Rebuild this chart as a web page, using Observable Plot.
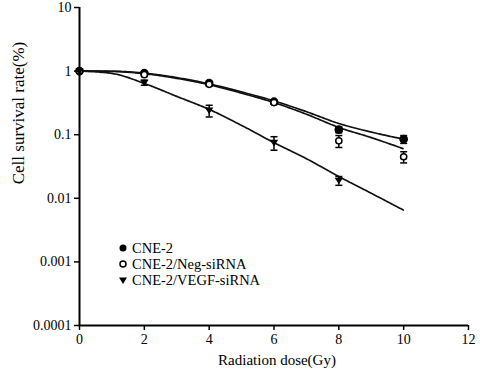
<!DOCTYPE html>
<html><head><meta charset="utf-8">
<script src="https://cdn.jsdelivr.net/npm/d3@7"></script>
<script src="https://cdn.jsdelivr.net/npm/@observablehq/plot@0.6"></script>
<style>
body{margin:0;background:#fff;font-family:"Liberation Serif","DejaVu Serif",serif;}
#wrap{position:relative;width:480px;height:371px;}
#wrap svg text{font-family:"Liberation Serif",serif !important;}
.ttl{position:absolute;font-size:15px;color:#000;white-space:nowrap;font-family:"Liberation Serif",serif;}
#legend{position:absolute;left:118px;top:240px;font-size:14.5px;line-height:16px;}
#legend div{display:flex;align-items:center;}
#legend svg{margin-right:4px;}
</style></head>
<body><div id="wrap"></div>
<script>
const doses = [0, 2, 4, 6, 8, 10];
const seriesNames = ["CNE-2", "CNE-2/Neg-siRNA", "CNE-2/VEGF-siRNA"];
const cne2 = [1, 0.93, 0.65, 0.33, 0.12, 0.085];
const cne2Err = [0, 0.03, 0.04, 0.02, 0.013, 0.012];
const neg = [1, 0.88, 0.62, 0.32, 0.08, 0.045];
const negErr = [0, 0.03, 0.04, 0.02, 0.017, 0.009];
const vegf = [1, 0.66, 0.24, 0.075, 0.019, null];
const vegfErr = [0, 0.06, 0.05, 0.018, 0.003, null];
const fitDoses = [0, 1, 2, 3, 4, 5, 6, 7, 8, 9, 10];
const cne2Fit = [1, 0.995, 0.93, 0.79, 0.63, 0.47, 0.34, 0.23, 0.15, 0.11, 0.085];
const negFit = [1, 0.99, 0.91, 0.77, 0.61, 0.45, 0.32, 0.21, 0.13, 0.09, 0.06];
const vegfFit = [1, 0.92, 0.64, 0.4, 0.25, 0.14, 0.075, 0.042, 0.022, 0.012, 0.0065];
const yTicks = [10, 1, 0.1, 0.01, 0.001, 0.0001];
const xTicks = [0, 2, 4, 6, 8, 10, 12];

const triangleDown = {draw(ctx, size){const r=Math.sqrt(size/Math.PI)*1.1;ctx.moveTo(-r,-r*0.7);ctx.lineTo(r,-r*0.7);ctx.lineTo(0,r*0.9);ctx.closePath();}};
const cap = {draw(ctx, size){const r=Math.sqrt(size/Math.PI);ctx.moveTo(-r,0);ctx.lineTo(r,0);}};

const vals = [cne2, neg, vegf], errs = [cne2Err, negErr, vegfErr], fits = [cne2Fit, negFit, vegfFit];
const pts = [], fitRows = [];
seriesNames.forEach((s, i) => {
  doses.forEach((d, j) => { if (vals[i][j] != null) pts.push({s, x: d, y: vals[i][j], lo: vals[i][j] - errs[i][j], hi: vals[i][j] + errs[i][j]}); });
  fitDoses.forEach((d, j) => fitRows.push({s, x: d, y: fits[i][j]}));
});
const errPts = pts.filter(p => p.hi > p.lo);

const chart = Plot.plot({
  width: 480, height: 371,
  marginLeft: 79, marginRight: 12, marginTop: 7, marginBottom: 46,
  style: {fontFamily: "Liberation Serif, serif", fontSize: "14px", color: "#000", background: "#fff"},
  x: {domain: [0, 12], ticks: xTicks, tickSize: 5, tickPadding: 4, label: null},
  y: {type: "log", domain: [0.0001, 10], ticks: yTicks, tickFormat: d => String(d), tickSize: 5, tickPadding: 3, label: null},
  marks: [
    Plot.line(fitRows, {x: "x", y: "y", z: "s", stroke: "#111", strokeWidth: 1.7, strokeDasharray: "3,1", curve: "monotone-x"}),
    Plot.ruleX(errPts, {x: "x", y1: "lo", y2: "hi", stroke: "#000", strokeWidth: 1.5}),
    Plot.dot(errPts, {x: "x", y: "lo", symbol: () => cap, r: 3.5, stroke: "#000", strokeWidth: 1.5}),
    Plot.dot(errPts, {x: "x", y: "hi", symbol: () => cap, r: 3.5, stroke: "#000", strokeWidth: 1.5}),
    Plot.dot(pts.filter(p => p.s === "CNE-2"), {x: "x", y: "y", r: 3.6, fill: "#000", stroke: "#000"}),
    Plot.dot(pts.filter(p => p.s === "CNE-2/Neg-siRNA"), {x: "x", y: "y", r: 3.1, fill: "#fff", stroke: "#000", strokeWidth: 1.5}),
    Plot.dot(pts.filter(p => p.s === "CNE-2/VEGF-siRNA"), {x: "x", y: "y", symbol: () => triangleDown, r: 3.8, fill: "#000"}),
    Plot.axisX({ticks: xTicks, tickSize: 5, tickPadding: 4, strokeWidth: 1.5, fontSize: 14}),
    Plot.axisY({ticks: yTicks, tickFormat: d => String(d), tickSize: 5, tickPadding: 3, strokeWidth: 1.5, fontSize: 14}),
    Plot.ruleX([0], {stroke: "#000", strokeWidth: 2}),
    Plot.ruleY([0.0001], {stroke: "#000", strokeWidth: 2})
  ]
});
const wrap = document.getElementById("wrap");
wrap.appendChild(chart);

const yt = document.createElement("div");
yt.className = "ttl"; yt.textContent = "Cell survival rate(%)";
yt.style.cssText = "left:19px;top:113px;font-size:17px;transform:translate(-50%,-50%) rotate(-90deg);";
wrap.appendChild(yt);
const xt = document.createElement("div");
xt.className = "ttl"; xt.textContent = "Radiation dose(Gy)";
xt.style.cssText = "left:277px;top:352px;transform:translateX(-50%);";
wrap.appendChild(xt);

const lg = document.createElement("div"); lg.id = "legend";
const legSvg = [
  '<svg width="10" height="10"><circle cx="5" cy="5" r="3.5" fill="#000"/></svg>',
  '<svg width="10" height="10"><circle cx="5" cy="5" r="3" fill="#fff" stroke="#000" stroke-width="1.5"/></svg>',
  '<svg width="10" height="10"><path d="M1,2.5 L9,2.5 L5,9 Z" fill="#000"/></svg>'
];
seriesNames.forEach((s, i) => { const r = document.createElement("div"); r.innerHTML = legSvg[i] + "<span>" + s + "</span>"; lg.appendChild(r); });
wrap.appendChild(lg);
</script></body></html>
